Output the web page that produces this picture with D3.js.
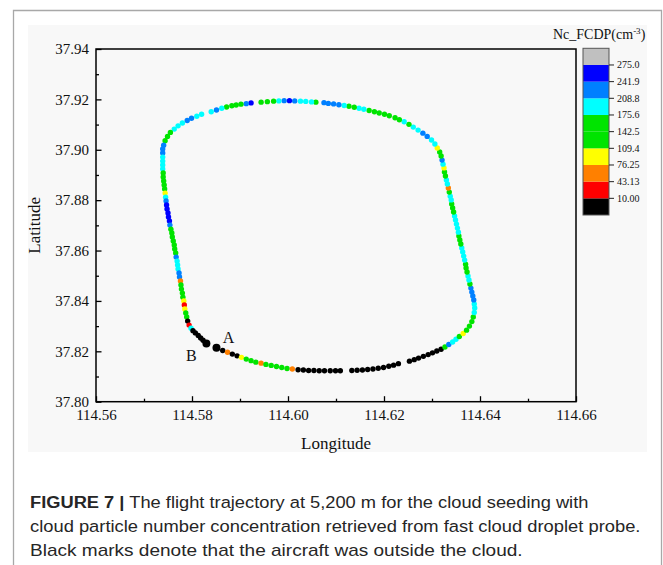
<!DOCTYPE html>
<html>
<head>
<meta charset="utf-8">
<script src="https://cdn.jsdelivr.net/npm/d3@7"></script>
<style>
  html, body { margin: 0; padding: 0; background: #ffffff; }
  svg { display: block; }
</style>
</head>
<body>
<svg id="fig" width="663" height="565"></svg>
<script>
// ---- axis ticks ----
const lonTicks = [114.56, 114.58, 114.60, 114.62, 114.64, 114.66];
const latTicks = [37.80, 37.82, 37.84, 37.86, 37.88, 37.90, 37.92, 37.94];

// ---- colour levels of Nc_FCDP (cm^-3) ----
const levels = [10.00, 43.13, 76.25, 109.4, 142.5, 175.6, 208.8, 241.9, 275.0];
const levelLabels = ["10.00", "43.13", "76.25", "109.4", "142.5", "175.6", "208.8", "241.9", "275.0"];
const levelColors = ["#000000", "#ff0000", "#ff8000", "#ffff00", "#00e400", "#00e400",
                     "#00ffff", "#0080ff", "#0000ff", "#c0c0c0"];

// ---- flight track: longitude, latitude, droplet number concentration ----
const trackLon = [
  114.5864, 114.5874, 114.5884, 114.5894, 114.5903, 114.5913, 114.5923, 114.5933, 114.5944, 114.5954,
  114.5965, 114.5976, 114.5987, 114.5998, 114.6009, 114.6021, 114.6032, 114.6043, 114.6054, 114.6065,
  114.6076, 114.6088, 114.6099, 114.6109, 114.6133, 114.6144, 114.6155, 114.6166, 114.6177, 114.6188,
  114.6199, 114.6210, 114.6220, 114.6230, 114.6253, 114.6263, 114.6272, 114.6282, 114.6292, 114.6301,
  114.6310, 114.6319, 114.6327, 114.6335, 114.6343, 114.6350, 114.6357, 114.6365, 114.6372, 114.6378,
  114.6383, 114.6386, 114.6388, 114.6389,
  114.6388, 114.6387, 114.6385, 114.6383, 114.6381, 114.6379, 114.6377, 114.6375, 114.6373, 114.6371,
  114.6370, 114.6368, 114.6366, 114.6364, 114.6362, 114.6360, 114.6358, 114.6356, 114.6355, 114.6353,
  114.6351, 114.6349, 114.6347, 114.6345, 114.6343, 114.6341, 114.6340, 114.6338, 114.6336, 114.6334,
  114.6332, 114.6330, 114.6328, 114.6326, 114.6325, 114.6323, 114.6321, 114.6319, 114.6316, 114.6311,
  114.6306, 114.6299, 114.6290, 114.6281, 114.6271, 114.6261, 114.6252, 114.6242, 114.6232, 114.6223,
  114.6211, 114.6201, 114.6190, 114.6180, 114.6169, 114.6158, 114.6148, 114.6138, 114.6127, 114.6117,
  114.6106, 114.6095, 114.6084, 114.6075, 114.6058, 114.6049, 114.6037, 114.6026, 114.6014, 114.6003,
  114.5992, 114.5981, 114.5970, 114.5957, 114.5944, 114.5923, 114.5913, 114.5902, 114.5892, 114.5883,
  114.5872, 114.5862, 114.5851, 114.5840, 114.5820, 114.5810, 114.5799, 114.5790, 114.5780, 114.5771,
  114.5763, 114.5755, 114.5749, 114.5744, 114.5741,
  114.5739, 114.5739, 114.5739, 114.5739, 114.5739, 114.5739, 114.5740, 114.5740, 114.5741, 114.5742,
  114.5743, 114.5744, 114.5745, 114.5746, 114.5747, 114.5748, 114.5750, 114.5751, 114.5753, 114.5754,
  114.5756, 114.5758, 114.5759, 114.5761, 114.5763, 114.5764, 114.5766, 114.5767, 114.5769, 114.5770,
  114.5771, 114.5773, 114.5774, 114.5776, 114.5777, 114.5778, 114.5780, 114.5781, 114.5783, 114.5784,
  114.5785, 114.5787, 114.5789, 114.5791, 114.5794,
  114.5798, 114.5802, 114.5807, 114.5813, 114.5818, 114.5823
];
const trackLat = [
  37.8203, 37.8196, 37.8189, 37.8182, 37.8176, 37.8169, 37.8163, 37.8157, 37.8153, 37.8148,
  37.8144, 37.8140, 37.8136, 37.8132, 37.8130, 37.8127, 37.8126, 37.8124, 37.8124, 37.8123,
  37.8123, 37.8123, 37.8123, 37.8123, 37.8124, 37.8125, 37.8126, 37.8128, 37.8130, 37.8133,
  37.8136, 37.8141, 37.8145, 37.8151, 37.8161, 37.8167, 37.8173, 37.8180, 37.8187, 37.8194,
  37.8201, 37.8208, 37.8217, 37.8227, 37.8237, 37.8248, 37.8259, 37.8271, 37.8284, 37.8300,
  37.8318, 37.8336, 37.8354, 37.8372,
  37.8388, 37.8404, 37.8420, 37.8435, 37.8451, 37.8467, 37.8483, 37.8499, 37.8515, 37.8531,
  37.8546, 37.8562, 37.8578, 37.8594, 37.8610, 37.8626, 37.8642, 37.8658, 37.8673, 37.8689,
  37.8705, 37.8721, 37.8737, 37.8753, 37.8769, 37.8785, 37.8801, 37.8816, 37.8832, 37.8848,
  37.8864, 37.8880, 37.8896, 37.8912, 37.8928, 37.8943, 37.8959, 37.8975, 37.8991, 37.9007,
  37.9023, 37.9039, 37.9053, 37.9066, 37.9078, 37.9090, 37.9101, 37.9111, 37.9119, 37.9127,
  37.9135, 37.9141, 37.9146, 37.9151, 37.9156, 37.9161, 37.9165, 37.9169, 37.9173, 37.9176,
  37.9179, 37.9182, 37.9184, 37.9187, 37.9189, 37.9190, 37.9192, 37.9193, 37.9194, 37.9195,
  37.9195, 37.9194, 37.9193, 37.9191, 37.9189, 37.9186, 37.9183, 37.9181, 37.9178, 37.9175,
  37.9170, 37.9165, 37.9158, 37.9151, 37.9141, 37.9133, 37.9125, 37.9116, 37.9106, 37.9095,
  37.9082, 37.9069, 37.9053, 37.9036, 37.9018,
  37.9003, 37.8987, 37.8971, 37.8955, 37.8940, 37.8924, 37.8908, 37.8892, 37.8876, 37.8860,
  37.8844, 37.8828, 37.8812, 37.8797, 37.8781, 37.8765, 37.8749, 37.8733, 37.8717, 37.8701,
  37.8685, 37.8670, 37.8654, 37.8638, 37.8622, 37.8606, 37.8590, 37.8574, 37.8558, 37.8543,
  37.8527, 37.8511, 37.8495, 37.8479, 37.8463, 37.8447, 37.8431, 37.8415, 37.8400, 37.8384,
  37.8368, 37.8352, 37.8336, 37.8320, 37.8304,
  37.8292, 37.8282, 37.8273, 37.8263, 37.8253, 37.8244
];
const trackNc = [
  5, 60, 5, 5, 92, 130, 130, 130, 60, 130,
  130, 130, 130, 130, 60, 5, 5, 5, 5, 5,
  5, 5, 5, 5, 5, 5, 5, 5, 5, 5,
  5, 5, 5, 5, 5, 5, 5, 5, 5, 5,
  5, 5, 130, 225, 190, 190, 130, 92, 130, 130,
  130, 130, 190, 190,
  190, 225, 225, 225, 225, 130, 190, 190, 130, 130,
  130, 190, 190, 190, 190, 130, 130, 130, 190, 190,
  190, 190, 190, 130, 130, 130, 190, 190, 130, 60,
  190, 190, 130, 130, 92, 190, 225, 130, 130, 92,
  190, 190, 225, 225, 190, 190, 130, 190, 130, 130,
  130, 130, 130, 130, 130, 190, 190, 130, 130, 190,
  225, 225, 225, 225, 130, 190, 190, 190, 225, 258,
  225, 190, 130, 130, 130, 258, 225, 130, 130, 130,
  130, 190, 225, 190, 190, 190, 225, 225, 190, 190,
  190, 130, 130, 130, 225,
  225, 225, 190, 190, 190, 190, 130, 130, 130, 130,
  130, 92, 190, 225, 258, 258, 258, 258, 258, 225,
  130, 130, 130, 130, 130, 130, 130, 225, 190, 190,
  190, 225, 225, 60, 130, 130, 130, 130, 92, 27,
  92, 130, 130, 5, 27,
  190, 5, 5, 5, 5, 5
];

// ---- labelled positions ----
const markLon = [114.5851, 114.5830];
const markLat = [37.8214, 37.8231];
const markName = ["A", "B"];

// ---- caption ----
const captionBold = "FIGURE 7 |";
const captionLines = [
  " The flight trajectory at 5,200 m for the cloud seeding with",
  "cloud particle number concentration retrieved from fast cloud droplet probe.",
  "Black marks denote that the aircraft was outside the cloud."
];

const svg = d3.select("#fig");
const serif = "'Liberation Serif', 'Times New Roman', serif";
const sans = "'Liberation Sans', Arial, sans-serif";

// page frame and image panel
svg.append("rect").attr("x", 0).attr("y", 0).attr("width", 663).attr("height", 565).attr("fill", "#ffffff");
svg.append("path")
  .attr("d", "M13.5,570 V10.5 H661.5 V570")
  .attr("fill", "none").attr("stroke", "#a8a8a8").attr("stroke-width", 1.3);
svg.append("rect").attr("x", 28).attr("y", 25).attr("width", 619).attr("height", 427).attr("fill", "#f8f8f8");

// plot geometry
const plot = { left: 96, right: 576, top: 49, bottom: 401.7 };
const x = d3.scaleLinear().domain([114.56, 114.66]).range([plot.left, plot.right]);
const y = d3.scaleLinear().domain([37.80, 37.94]).range([plot.bottom, plot.top]);

const mid = a => a.slice(1).map((v, i) => (v + a[i]) / 2);
const lonMinor = mid(lonTicks);
const latMinor = mid(latTicks);

function styleAxis(g) {
  g.select(".domain").remove();
  g.selectAll(".tick line").attr("stroke", "#000").attr("stroke-width", 1.3);
  g.selectAll("text").attr("fill", "#111").style("font-family", serif).style("font-size", "15px");
}

// y axis (ticks pointing inward)
svg.append("g").attr("transform", `translate(${plot.left},0)`)
  .call(d3.axisLeft(y).tickValues(latTicks).tickSize(-5.5).tickPadding(7).tickFormat(d3.format(".2f")))
  .call(styleAxis);
svg.append("g").attr("transform", `translate(${plot.left},0)`)
  .call(d3.axisLeft(y).tickValues(latMinor).tickSize(-3).tickFormat(""))
  .call(styleAxis);

// x axis (ticks pointing inward)
svg.append("g").attr("transform", `translate(0,${plot.bottom})`)
  .call(d3.axisBottom(x).tickValues(lonTicks).tickSize(-5.5).tickPadding(8).tickFormat(d3.format(".2f")))
  .call(styleAxis);
svg.append("g").attr("transform", `translate(0,${plot.bottom})`)
  .call(d3.axisBottom(x).tickValues(lonMinor).tickSize(-3).tickFormat(""))
  .call(styleAxis);

// plot frame
svg.append("rect")
  .attr("x", plot.left).attr("y", plot.top)
  .attr("width", plot.right - plot.left).attr("height", plot.bottom - plot.top)
  .attr("fill", "none").attr("stroke", "#000").attr("stroke-width", 1.5);

// axis titles
svg.append("text")
  .attr("x", (plot.left + plot.right) / 2).attr("y", 449)
  .attr("text-anchor", "middle")
  .style("font-family", serif).style("font-size", "17px").attr("fill", "#111")
  .text("Longitude");
svg.append("text")
  .attr("transform", `translate(40,${(plot.top + plot.bottom) / 2}) rotate(-90)`)
  .attr("text-anchor", "middle")
  .style("font-family", serif).style("font-size", "17px").attr("fill", "#111")
  .text("Latitude");

// colour classes
const colorOf = d3.scaleThreshold().domain(levels).range(levelColors);

// flight track points
const track = trackLon.map((lon, i) => ({ lon, lat: trackLat[i], nc: trackNc[i] }));
svg.append("g").selectAll("circle").data(track).join("circle")
  .attr("cx", d => x(d.lon)).attr("cy", d => y(d.lat))
  .attr("r", 2.7)
  .attr("fill", d => colorOf(d.nc));

// labelled points A and B
const marks = markLon.map((lon, i) => ({ lon, lat: markLat[i], name: markName[i] }));
svg.append("g").selectAll("circle").data(marks).join("circle")
  .attr("cx", d => x(d.lon)).attr("cy", d => y(d.lat))
  .attr("r", 4).attr("fill", "#000");
const labelOffset = { A: [12, -5], B: [-15, 17] };
svg.append("g").selectAll("text").data(marks).join("text")
  .attr("x", d => x(d.lon) + labelOffset[d.name][0])
  .attr("y", d => y(d.lat) + labelOffset[d.name][1])
  .attr("text-anchor", "middle")
  .style("font-family", serif).style("font-size", "16px").attr("fill", "#111")
  .text(d => d.name);

// colour bar
const cb = { x: 583, width: 26, top: 48.3, bottom: 215 };
const cbY = d3.scaleLinear().domain([0, levelColors.length]).range([cb.bottom, cb.top]);
const bar = svg.append("g");
bar.selectAll("rect").data(levelColors).join("rect")
  .attr("x", cb.x).attr("width", cb.width)
  .attr("y", (c, i) => cbY(i + 1)).attr("height", (c, i) => cbY(i) - cbY(i + 1))
  .attr("fill", c => c);
bar.append("rect")
  .attr("x", cb.x).attr("y", cb.top).attr("width", cb.width).attr("height", cb.bottom - cb.top)
  .attr("fill", "none").attr("stroke", "#555").attr("stroke-width", 1);
const cbTicks = bar.append("g").selectAll("g").data(levelLabels).join("g")
  .attr("transform", (t, i) => `translate(${cb.x + cb.width},${cbY(i + 1)})`);
cbTicks.append("line").attr("x1", 0).attr("x2", 5).attr("stroke", "#222").attr("stroke-width", 1);
cbTicks.append("text")
  .attr("x", 8).attr("dy", "0.35em")
  .style("font-family", serif).style("font-size", "10px").attr("fill", "#111")
  .text(t => t);

// colour bar title
const cbTitle = svg.append("text")
  .attr("x", 553).attr("y", 39)
  .style("font-family", serif).style("font-size", "14px").attr("fill", "#111");
cbTitle.append("tspan").text("Nc_FCDP(cm");
cbTitle.append("tspan").attr("dy", -5).style("font-size", "9px").text("-3");
cbTitle.append("tspan").attr("dy", 5).text(")");

// caption
const capX = 30;
const capBase = [508, 532, 556];
const capWidth = [559, 611, 493];
capBase.forEach((yy, i) => {
  const t = svg.append("text")
    .attr("x", 0).attr("y", 0)
    .attr("xml:space", "preserve")
    .style("font-family", sans).style("font-size", "17px").attr("fill", "#262626");
  if (i === 0) t.append("tspan").style("font-weight", "bold").text(captionBold);
  t.append("tspan").text(captionLines[i]);
  const w = t.node().getComputedTextLength();
  t.attr("transform", `translate(${capX},${yy}) scale(${capWidth[i] / w},1)`);
});
</script>
</body>
</html>
